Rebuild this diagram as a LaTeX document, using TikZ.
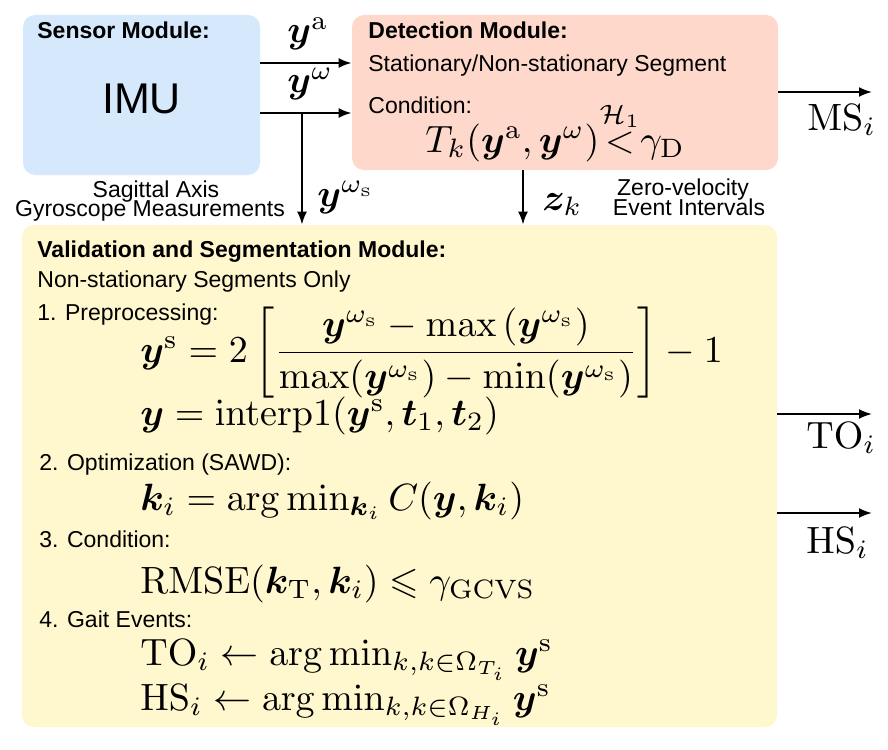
\documentclass[tikz,border=0pt]{standalone}
\usepackage{amsmath,amssymb,bm}
\usepackage{graphicx}
\usepackage[no-math]{fontspec}
\newfontfamily\arialfont{Liberation Sans}
\usepackage{tikz}
\usetikzlibrary{arrows.meta}

\definecolor{sensorblue}{RGB}{213,232,252}
\definecolor{detectpink}{RGB}{253,216,203}
\definecolor{validyellow}{RGB}{255,248,206}

\newcommand{\vy}{\bm{y}}
\newcommand{\vk}{\bm{k}}
\newcommand{\vt}{\bm{t}}
\newcommand{\vz}{\bm{z}}
\newcommand{\eqbox}[1]{\scalebox{1.9}{$#1$}}

\begin{document}
\begin{tikzpicture}[x=0.5pt, y=-0.5pt,
		module/.style={rounded corners=6pt, inner sep=0pt},
		lbl/.style={anchor=base west, inner sep=0pt, font=\arialfont\fontsize{11.5}{14}\selectfont},
		hdr/.style={anchor=base west, inner sep=0pt, font=\arialfont\bfseries\fontsize{11.5}{14}\selectfont},
		eq/.style={anchor=base west, inner sep=0pt},
		flow/.style={-{Latex[length=6.5pt,width=5pt]}, line width=1pt}]
		\useasboundingbox (0,0) rectangle (888,749);
		
		%---------------- MODULE BOXES ----------------
		\node[module, fill=sensorblue, minimum width=118.5pt, minimum height=80pt] (sensor) at (141.5,95) {};
		\node[module, fill=detectpink, minimum width=213pt, minimum height=77.5pt] (detect) at (565,92.5) {};
		\node[module, fill=validyellow, minimum width=377.5pt, minimum height=251pt] (valid) at (399.5,476) {};
		
		%---------------- SENSOR MODULE ----------------
		\node[hdr] (sensorTitle) at (37,39) {Sensor Module:};
		\node[anchor=base, inner sep=0pt, font=\arialfont\fontsize{21.5}{26}\selectfont] (imu) at (141.5,113) {IMU};
		\node[anchor=base, inner sep=0pt, font=\arialfont\fontsize{11.5}{14}\selectfont] (sagittal) at (156,197) {Sagittal Axis};
		\node[anchor=base, inner sep=0pt, font=\arialfont\fontsize{11.5}{14}\selectfont] (gyro) at (150,216) {Gyroscope Measurements};
		
		%---------------- DETECTION MODULE ----------------
		\node[hdr] (detectTitle) at (368,39) {Detection Module:};
		\node[lbl] (segment) at (368,72) {Stationary/Non-stationary Segment};
		\node[lbl] (detectCond) at (368,113) {Condition:};
		\node[eq] (testStat) at (425,152) {\eqbox{T_k(\vy^\mathrm{a},\vy^\omega){\overset{\mathcal{H}_1}{<}}\gamma_\mathrm{D}}};
		\node[anchor=base, inner sep=0pt, font=\arialfont\fontsize{11.5}{14}\selectfont] (zeroVel) at (683,195) {Zero-velocity};
		\node[anchor=base, inner sep=0pt, font=\arialfont\fontsize{11.5}{14}\selectfont] (eventInt) at (689,215) {Event Intervals};
		
		%---------------- VALIDATION AND SEGMENTATION MODULE ----------------
		\node[hdr] (validTitle) at (37,257) {Validation and Segmentation Module:};
		\node[lbl] (nonStat) at (37,287) {Non-stationary Segments Only};
		\node[lbl] (step1) at (37,320) {1. Preprocessing:};
		\node[eq] (scaleEq) at (140,362) {\eqbox{\vy^\mathrm{s}=2\,\biggl[\dfrac{\vy^{\omega_\mathrm{s}}-\max\left(\vy^{\omega_\mathrm{s}}\right)}{\max(\vy^{\omega_\mathrm{s}})-\min(\vy^{\omega_\mathrm{s}})}\biggr]-1}};
		\node[eq] (interpEq) at (140,425) {\eqbox{\vy=\mathrm{interp1}(\vy^\mathrm{s},\vt_1,\vt_2)}};
		\node[lbl] (step2) at (39,470) {2. Optimization (SAWD):};
		\node[eq] (optEq) at (140,510) {\eqbox{\vk_i=\arg\min\nolimits_{\vk_i}C(\vy,\vk_i)}};
		\node[lbl] (step3) at (39,547) {3. Condition:};
		\node[eq] (rmseEq) at (140,593) {\eqbox{\mathrm{RMSE}(\vk_\mathrm{T},\vk_i)\leqslant\gamma_\mathrm{GCVS}}};
		\node[lbl] (step4) at (39,627) {4. Gait Events:};
		\node[eq] (toEq) at (140,665) {\eqbox{\mathrm{TO}_i\leftarrow\arg\min\nolimits_{k,k\in\Omega_{T_i}}\vy^\mathrm{s}}};
		\node[eq] (hsEq) at (140,710) {\eqbox{\mathrm{HS}_i\leftarrow\arg\min\nolimits_{k,k\in\Omega_{H_i}}\vy^\mathrm{s}}};
		
		%---------------- CONNECTORS ----------------
		% rows of the arrows
		\coordinate (aRow) at (0,63);
		\coordinate (wRow) at (0,113);
		\coordinate (wSplit) at (302,113);
		\coordinate (zTop) at (523,0);
		\coordinate (msEnd) at (872,92);
		\coordinate (toEnd) at (872,414);
		\coordinate (hsEnd) at (872,513);
		
		\draw[flow] (sensor.east |- aRow) -- (detect.west |- aRow);
		\draw[flow] (sensor.east |- wRow) -- (detect.west |- wRow);
		\draw[flow] (wSplit) -- (wSplit |- valid.north);
		\draw[flow] (zTop |- detect.south) -- (zTop |- valid.north);
		\draw[flow] (detect.east |- msEnd) -- (msEnd);
		\draw[flow] (valid.east |- toEnd) -- (toEnd);
		\draw[flow] (valid.east |- hsEnd) -- (hsEnd);
		
		% connector labels
		\node[eq] (yaLbl) at (287,43) {\eqbox{\vy^\mathrm{a}}};
		\node[eq] (ywLbl) at (287,93) {\eqbox{\vy^\omega}};
		\node[eq] (ysLbl) at (317,206) {\eqbox{\vy^{\omega_\mathrm{s}}}};
		\node[eq] (zLbl) at (542,210) {\eqbox{\vz_k}};
		\node[eq] (msLbl) at (807,130) {\eqbox{\mathrm{MS}_i}};
		\node[eq] (toLbl) at (806,448) {\eqbox{\mathrm{TO}_i}};
		\node[eq] (hsLbl) at (806,553) {\eqbox{\mathrm{HS}_i}};
	\end{tikzpicture}
\end{document}
